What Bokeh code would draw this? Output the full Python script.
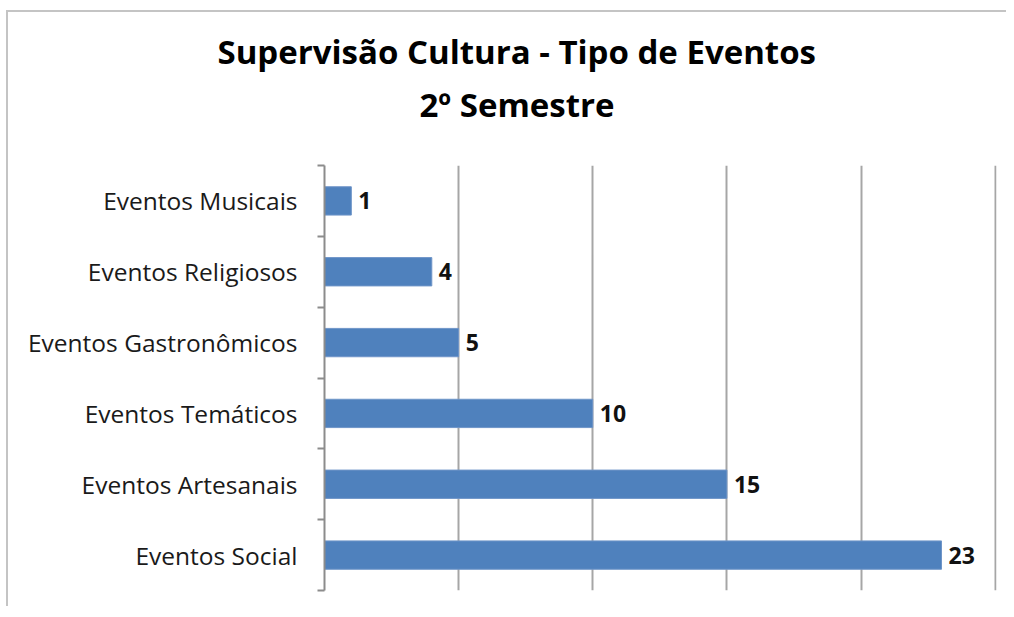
from bokeh.plotting import figure
from bokeh.models import FixedTicker, Title, Range1d, ColumnDataSource
from bokeh.core.properties import value
from bokeh.embed import file_html
from bokeh.resources import INLINE

categories = ["Eventos Social", "Eventos Artesanais", "Eventos Temáticos",
              "Eventos Gastronômicos", "Eventos Religiosos", "Eventos Musicais"]
counts = [23, 15, 10, 5, 4, 1]
x_ticks = [0, 5, 10, 15, 20, 25]
title_line1 = "Supervisão Cultura - Tipo de Eventos"
title_line2 = "2º Semestre"

ypos = [i + 0.5 for i in range(len(categories))]
boundaries = list(range(len(categories) + 1))

FONT = "Open Sans"

p = figure(width=1000, height=596, output_backend="svg", toolbar_location=None,
           x_range=Range1d(0, 25.05), y_range=Range1d(0, len(categories)),
           x_axis_location=None, min_border_left=316, min_border_right=12,
           min_border_top=153, min_border_bottom=18,
           styles={"border-left": "2px solid #c4c4c4", "border-top": "2px solid #c4c4c4",
                   "margin-top": "10px", "margin-left": "6px"})
p.outline_line_color = None
p.background_fill_color = "white"
p.border_fill_color = "white"

p.xgrid.ticker = FixedTicker(ticks=x_ticks)
p.xgrid.grid_line_color = "#a6a6a6"
p.xgrid.grid_line_width = 2
p.ygrid.grid_line_color = None

src = ColumnDataSource(dict(y=ypos, v=counts, lab=[str(c) for c in counts]))
p.hbar(y="y", right="v", left=0, height=0.4, source=src,
       fill_color="#4f81bd", line_color="#6f95c8", line_width=1)
p.text(x="v", y="y", text="lab", source=src, x_offset=7,
       text_baseline="middle", text_align="left",
       text_font=value(FONT), text_font_style="bold", text_font_size="23px",
       text_color="#111111")

yax = p.yaxis[0]
yax.ticker = FixedTicker(ticks=ypos, minor_ticks=boundaries)
yax.major_label_overrides = {y: c for y, c in zip(ypos, categories)}
yax.major_tick_line_color = None
yax.major_tick_out = 0
yax.major_tick_in = 0
yax.minor_tick_line_color = "#8c8c8c"
yax.minor_tick_line_width = 2
yax.minor_tick_out = 7
yax.minor_tick_in = 0
yax.axis_line_color = "#8c8c8c"
yax.axis_line_width = 2
yax.major_label_standoff = 20
yax.major_label_text_font = FONT
yax.major_label_text_font_size = "24.5px"
yax.major_label_text_color = "#1a1a1a"

p.add_layout(Title(text=title_line2, align="left", offset=95, standoff=78,
                   text_font=FONT, text_font_style="bold", text_font_size="33px",
                   text_color="#000000"), "above")
p.add_layout(Title(text=title_line1, align="left", offset=-107, standoff=-66,
                   text_font=FONT, text_font_style="bold", text_font_size="33px",
                   text_color="#000000"), "above")

open("out.html", "w").write(file_html(p, INLINE))
